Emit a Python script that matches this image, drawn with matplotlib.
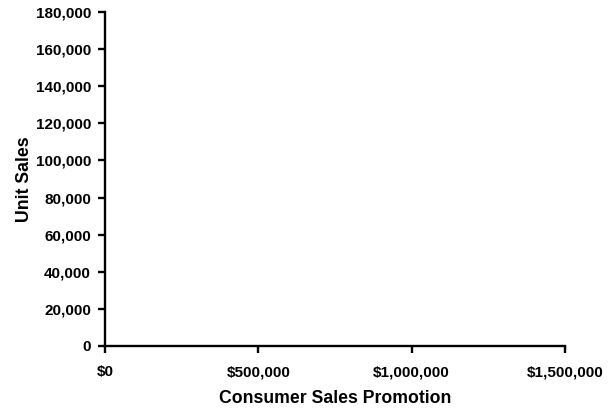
import matplotlib
matplotlib.use("Agg")
import matplotlib.pyplot as plt
from matplotlib.ticker import FuncFormatter

x_ticks = [0, 500000, 1000000, 1500000]
y_ticks = [0, 20000, 40000, 60000, 80000, 100000, 120000, 140000, 160000, 180000]
promotion = []
unit_sales = []

plt.rcParams['font.family'] = ['Liberation Sans', 'DejaVu Sans']
plt.rcParams['font.weight'] = 'bold'

fig = plt.figure(figsize=(6.15, 4.11), dpi=100)
ax = fig.add_axes([105/615, 1-345.7/411, 460/615, (345.7-12.3)/411])
ax.scatter(promotion, unit_sales)
ax.set_xlim(0, 1500000)
ax.set_ylim(0, 180000)
ax.set_xticks(x_ticks)
ax.set_yticks(y_ticks)
ax.xaxis.set_major_formatter(FuncFormatter(lambda v, p: f"${v:,.0f}"))
ax.yaxis.set_major_formatter(FuncFormatter(lambda v, p: f"{v:,.0f}"))
for s in ['top', 'right']:
    ax.spines[s].set_visible(False)
for s in ['left', 'bottom']:
    ax.spines[s].set_linewidth(1.7)
ax.tick_params(axis='both', which='major', length=5, width=1.7, labelsize=11)
ax.tick_params(axis='x', pad=9)
ax.tick_params(axis='y', pad=5)
for lab in ax.get_xticklabels() + ax.get_yticklabels():
    lab.set_fontweight('bold')
ax.set_xlabel("Consumer Sales Promotion", fontsize=12.7, fontweight='bold', labelpad=8)
ax.set_ylabel("Unit Sales", fontsize=12.7, fontweight='bold', labelpad=2)
fig.savefig("out.png", dpi=100)
